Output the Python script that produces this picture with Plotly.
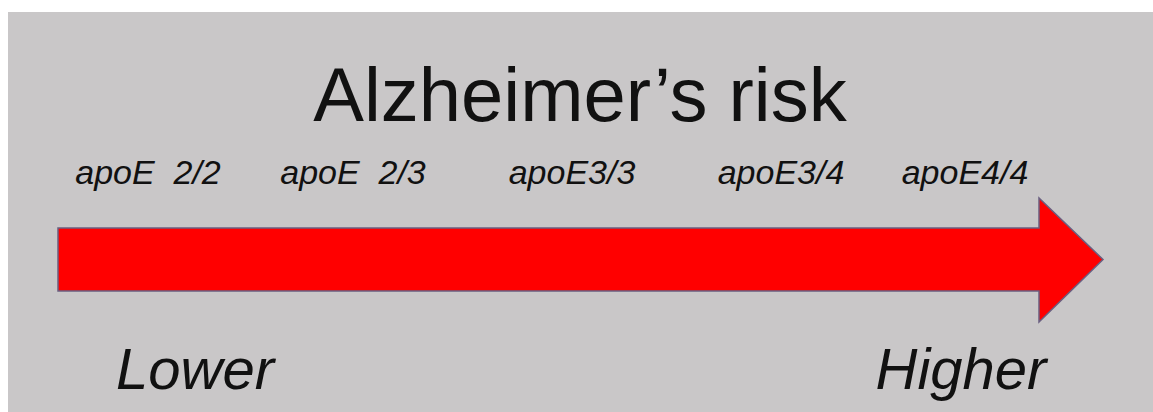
import plotly.graph_objects as go

# ---- data ----
title_text = "Alzheimer’s risk"
genotypes = ["apoE\u00a0 2/2", "apoE\u00a0 2/3", "apoE3/3", "apoE3/4", "apoE4/4"]
risk_scale_pos = [148, 353, 572, 781, 965]      # position along the risk axis
risk_ends = ["Lower", "Higher"]
risk_ends_pos = [195, 961]

W, H = 1153, 412
BG = "#c9c7c8"
FONT = "Liberation Sans, Arial, sans-serif"

# arrow geometry (in pixel space of the axes)
shaft_x0, shaft_y0, shaft_y1 = 58, 228, 291
head_x, head_y0, head_y1, tip_x = 1039, 198, 322, 1103
tip_y = (shaft_y0 + shaft_y1) / 2

fig = go.Figure()

# gray panel
shapes = [
    dict(type="rect", xref="x", yref="y", x0=8, x1=W, y0=12, y1=H,
         fillcolor=BG, line=dict(width=0), layer="below"),
]
arrow_path = (f"M {shaft_x0},{shaft_y0} L {head_x},{shaft_y0} L {head_x},{head_y0} "
              f"L {tip_x},{tip_y} L {head_x},{head_y1} L {head_x},{shaft_y1} "
              f"L {shaft_x0},{shaft_y1} Z")
shapes.append(dict(type="path", xref="x", yref="y", path=arrow_path,
                   fillcolor="#ff0000", line=dict(color="#6a5f80", width=1.5),
                   layer="above"))

# genotype labels
fig.add_trace(go.Scatter(
    x=risk_scale_pos, y=[175] * len(genotypes), mode="text", text=genotypes,
    textposition="middle center",
    textfont=dict(family=FONT, size=34, color="#111111", style="italic"),
    hoverinfo="skip", showlegend=False))

# end labels
fig.add_trace(go.Scatter(
    x=risk_ends_pos, y=[374, 374], mode="text", text=risk_ends,
    textposition="middle center",
    textfont=dict(family=FONT, size=58, color="#111111", style="italic"),
    hoverinfo="skip", showlegend=False))

# title
fig.add_trace(go.Scatter(
    x=[580], y=[102], mode="text", text=[title_text],
    textposition="middle center",
    textfont=dict(family=FONT, size=76, color="#111111"),
    hoverinfo="skip", showlegend=False))

fig.update_layout(
    width=W, height=H, margin=dict(l=0, r=0, t=0, b=0),
    paper_bgcolor="white", plot_bgcolor="white",
    shapes=shapes,
    xaxis=dict(range=[0, W], visible=False, fixedrange=True),
    yaxis=dict(range=[H, 0], visible=False, fixedrange=True),
)

fig.write_html("out.html", config={"displayModeBar": False},
               post_script="document.body.style.margin='0';")
